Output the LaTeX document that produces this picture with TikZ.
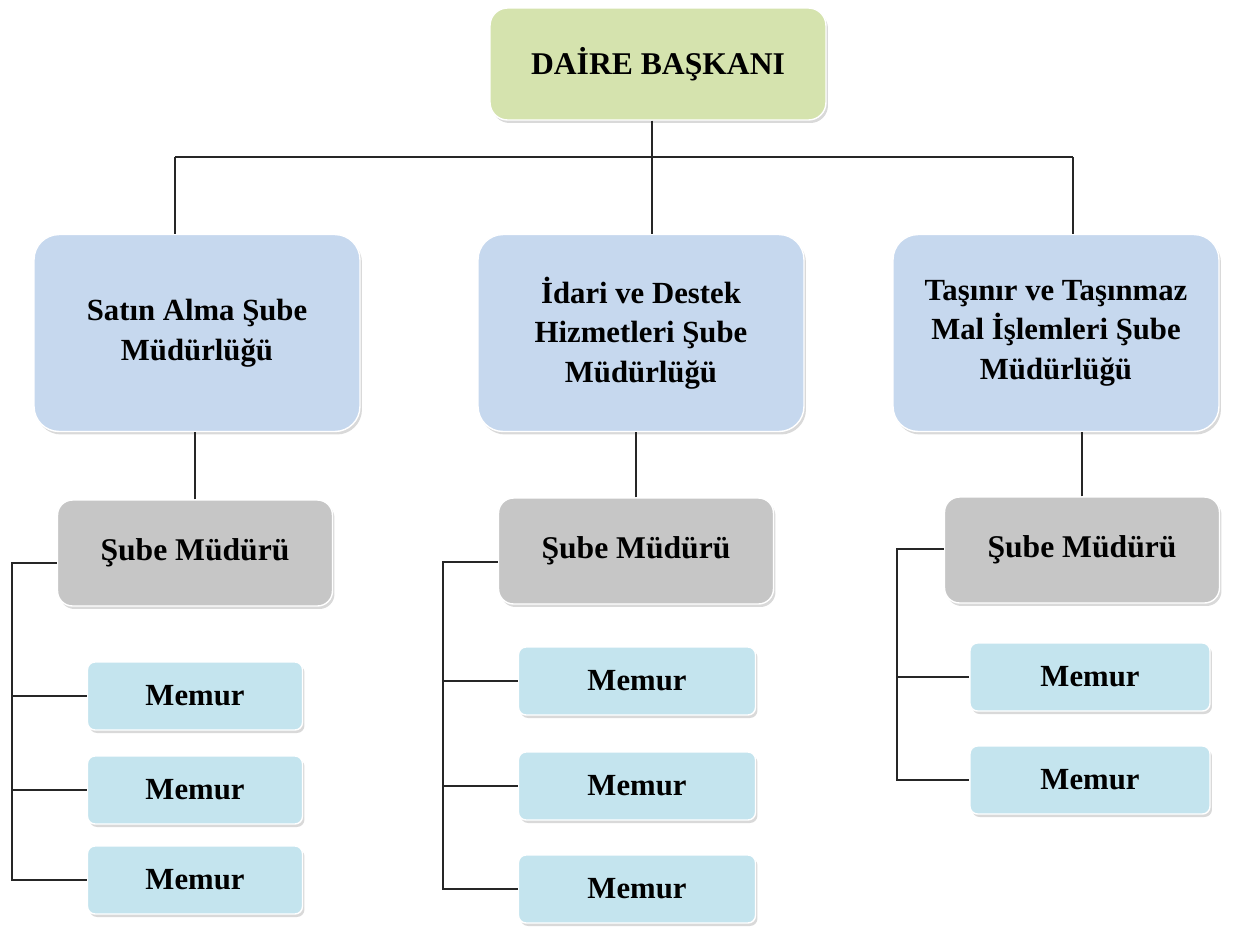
\documentclass[tikz,border=0pt]{standalone}
\usepackage{fontspec}
\setmainfont{Liberation Serif}
\usetikzlibrary{shadows}

\definecolor{topgreen}{HTML}{D5E3AE}
\definecolor{unitblue}{HTML}{C6D8EE}
\definecolor{headgray}{HTML}{C6C6C6}
\definecolor{staffcyan}{HTML}{C4E4EE}

\begin{document}
\begin{tikzpicture}[x=0.02cm,y=-0.02cm,
    box/.style={draw=white,line width=0.8pt,font=\bfseries,align=center,inner sep=2pt,
        drop shadow={opacity=0.3,shadow xshift=0.04cm,shadow yshift=-0.06cm}},
    chief/.style={box,fill=topgreen,rounded corners=0.35cm,minimum width=6.72cm,minimum height=2.24cm,font=\bfseries\fontsize{18}{22}\selectfont},
    unit/.style={box,fill=unitblue,rounded corners=0.5cm,minimum width=6.52cm,minimum height=3.94cm,font=\bfseries\fontsize{17.5}{22.5}\selectfont},
    head/.style={box,fill=headgray,rounded corners=0.3cm,minimum width=5.5cm,minimum height=2.12cm,font=\bfseries\fontsize{18}{22}\selectfont},
    staff/.style={box,fill=staffcyan,rounded corners=0.15cm,minimum height=1.36cm,font=\bfseries\fontsize{17.5}{21}\selectfont},
    link/.style={draw=black!85,line width=1.1pt}]
    \useasboundingbox (0,0) rectangle (1252,927);

    \node[chief] (top) at (658,64) {DAİRE BAŞKANI};

    \node[unit] (sa) at (197,333) {Satın Alma Şube\\Müdürlüğü};
    \node[unit] (id) at (641,333) {İdari ve Destek\\Hizmetleri Şube\\Müdürlüğü};
    \node[unit] (tm) at (1056,333) {Taşınır ve Taşınmaz\\Mal İşlemleri Şube\\Müdürlüğü};

    \node[head] (sm1) at (195,553) {Şube Müdürü};
    \node[head] (sm2) at (636,551) {Şube Müdürü};
    \node[head] (sm3) at (1082,550) {Şube Müdürü};

    \node[staff,minimum width=4.3cm] (m11) at (195,696) {Memur};
    \node[staff,minimum width=4.3cm] (m12) at (195,790) {Memur};
    \node[staff,minimum width=4.3cm] (m13) at (195,880) {Memur};
    \node[staff,minimum width=4.74cm] (m21) at (637,681) {Memur};
    \node[staff,minimum width=4.74cm] (m22) at (637,786) {Memur};
    \node[staff,minimum width=4.74cm] (m23) at (637,889) {Memur};
    \node[staff,minimum width=4.8cm] (m31) at (1090,677) {Memur};
    \node[staff,minimum width=4.8cm] (m32) at (1090,780) {Memur};

    % main bus
    \coordinate (j) at (652,157);
    \coordinate (bl) at (175,157);
    \coordinate (br) at (1073,157);
    \draw[link] (j |- top.south) -- (j);
    \draw[link] (bl) -- (br);
    \draw[link] (bl) -- (bl |- sa.north);
    \draw[link] (j) -- (j |- id.north);
    \draw[link] (br) -- (br |- tm.north);

    % units to heads
    \draw[link] (sm1.north) -- (sm1.north |- sa.south);
    \draw[link] (sm2.north) -- (sm2.north |- id.south);
    \draw[link] (sm3.north) -- (sm3.north |- tm.south);

    % staff brackets
    \coordinate (c1) at (12,563);
    \coordinate (c2) at (443,562);
    \coordinate (c3) at (897,549);
    \draw[link] (c1 -| sm1.west) -- (c1) -- (c1 |- m13.west) -- (m13.west);
    \draw[link] (c1 |- m11.west) -- (m11.west);
    \draw[link] (c1 |- m12.west) -- (m12.west);
    \draw[link] (c2 -| sm2.west) -- (c2) -- (c2 |- m23.west) -- (m23.west);
    \draw[link] (c2 |- m21.west) -- (m21.west);
    \draw[link] (c2 |- m22.west) -- (m22.west);
    \draw[link] (c3 -| sm3.west) -- (c3) -- (c3 |- m32.west) -- (m32.west);
    \draw[link] (c3 |- m31.west) -- (m31.west);
\end{tikzpicture}
\end{document}
